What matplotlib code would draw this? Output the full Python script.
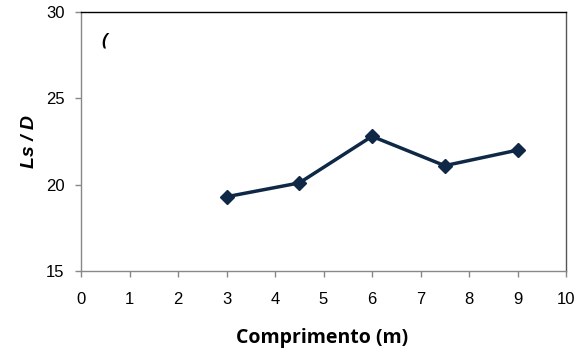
import matplotlib
matplotlib.use("Agg")
import matplotlib.pyplot as plt

# Length (m) vs Ls/D
comprimento = [3, 4.5, 6, 7.5, 9]
ls_d = [19.3, 20.1, 22.8, 21.1, 22.0]

x_ticks = list(range(0, 11))
y_ticks = [15, 20, 25, 30]

W, H = 578, 356
fig = plt.figure(figsize=(W / 100, H / 100), dpi=100)
ax = fig.add_axes([81 / W, 1 - 271 / H, (566 - 81) / W, (271 - 12) / H])

line_color = "#0F2846"
ax.plot(comprimento, ls_d, color=line_color, linewidth=2.5,
        marker="D", markersize=7.5, markerfacecolor=line_color,
        markeredgecolor=line_color, clip_on=False)

ax.set_xlim(0, 10)
ax.set_ylim(15, 30)
ax.set_xticks(x_ticks)
ax.set_yticks(y_ticks)

tick_font = dict(family="Liberation Sans", size=12)
ax.set_xticklabels([str(v) for v in x_ticks], **tick_font)
ax.set_yticklabels([str(v) for v in y_ticks], **tick_font)
ax.tick_params(axis="both", direction="out", length=4, width=1, color="#888888")
ax.tick_params(axis="x", pad=11)
ax.tick_params(axis="y", pad=8)

ax.spines["left"].set_color("#888888")
ax.spines["bottom"].set_color("#888888")
ax.spines["top"].set_color("#000000")
ax.spines["right"].set_color("#555555")
for s in ax.spines.values():
    s.set_linewidth(1.0)

fig.text(322 / W, 1 - 338 / H, "Comprimento (m)", family="Open Sans",
         weight="bold", size=14, ha="center", va="center")
fig.text(30 / W, 1 - 141 / H, "Ls / D", family="Liberation Sans",
         weight="bold", style="italic", size=14, rotation=90,
         ha="center", va="center")

ax.text(0.48, 28.35, "(", family="Open Sans", weight="bold", style="italic",
        size=13, ha="center", va="center")

fig.savefig("out.png", dpi=100)
